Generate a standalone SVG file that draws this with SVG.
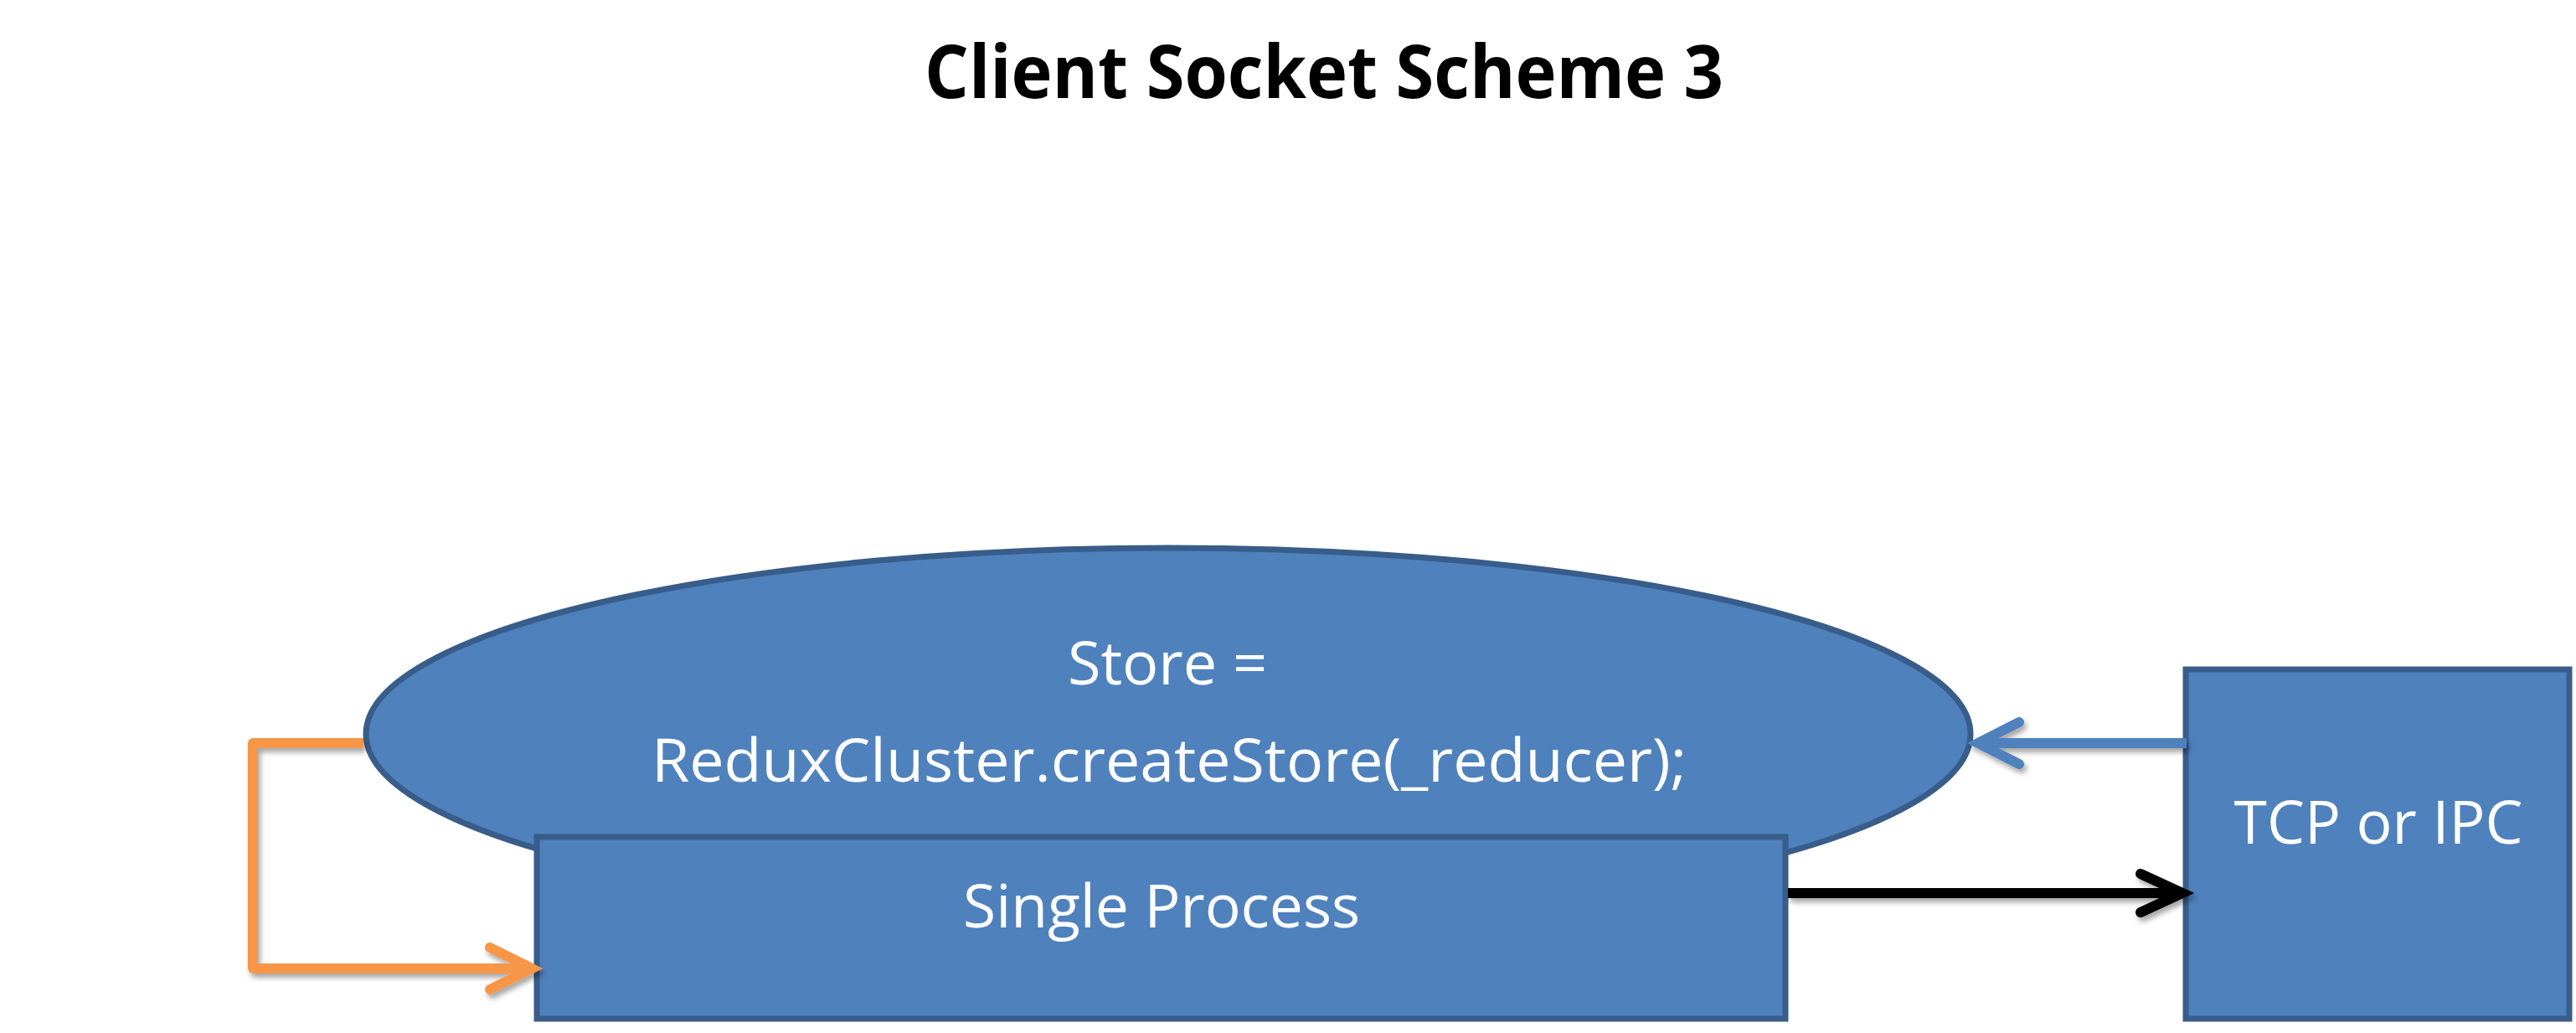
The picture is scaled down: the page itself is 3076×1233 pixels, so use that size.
<svg xmlns="http://www.w3.org/2000/svg" width="3076" height="1233" viewBox="0 0 3076 1233">
  <style>
    .node { fill: #4F81BD; stroke: #385D8A; stroke-width: 7; }
    .label { font-family: "Open Sans", "Liberation Sans", sans-serif; font-size: 72px; fill: #FFFFFF; text-anchor: middle; }
    .title { font-family: "Open Sans", "Liberation Sans", sans-serif; font-size: 87px; font-weight: bold; fill: #000000; text-anchor: middle; }
    .conn { fill: none; stroke-width: 12; }
  </style>
  <defs>
    <filter id="shadow" filterUnits="userSpaceOnUse" x="0" y="0" width="3076" height="1233">
      <feDropShadow dx="3" dy="5" stdDeviation="3" flood-color="#000000" flood-opacity="0.35"/>
    </filter>
    <marker id="arrOrange" markerUnits="userSpaceOnUse" orient="auto" refX="0" refY="0" markerWidth="80" markerHeight="80" overflow="visible">
      <path d="M-50,-25 L0,0 L-50,25" fill="none" stroke="#F79646" stroke-width="12" stroke-linecap="round" stroke-linejoin="miter"/>
    </marker>
    <marker id="arrBlue" markerUnits="userSpaceOnUse" orient="auto" refX="0" refY="0" markerWidth="80" markerHeight="80" overflow="visible">
      <path d="M-49,-25 L0,0 L-49,25" fill="none" stroke="#4F81BD" stroke-width="12" stroke-linecap="round" stroke-linejoin="miter"/>
    </marker>
    <marker id="arrBlack" markerUnits="userSpaceOnUse" orient="auto" refX="0" refY="0" markerWidth="80" markerHeight="80" overflow="visible">
      <path d="M-50,-23 L0,0 L-50,23" fill="none" stroke="#000000" stroke-width="12" stroke-linecap="round" stroke-linejoin="miter"/>
    </marker>
  </defs>

  <rect x="0" y="0" width="3076" height="1233" fill="#FFFFFF"/>

  <g id="title">
    <text class="title" x="1581" y="117" textLength="954" lengthAdjust="spacingAndGlyphs">Client Socket Scheme 3</text>
  </g>

  <g id="store">
    <ellipse class="node" cx="1395" cy="876" rx="958" ry="222"/>
    <text class="label" x="1394" y="817">Store =</text>
    <text class="label" x="1396" y="933" textLength="1236" lengthAdjust="spacingAndGlyphs">ReduxCluster.createStore(_reducer);</text>
  </g>

  <g id="single-process">
    <rect class="node" x="641" y="999" width="1491" height="217"/>
    <text class="label" x="1387" y="1107" textLength="474" lengthAdjust="spacingAndGlyphs">Single Process</text>
  </g>

  <g id="tcp-ipc">
    <rect class="node" x="2610" y="799" width="458" height="417"/>
    <text class="label" x="2840" y="1007" textLength="345" lengthAdjust="spacingAndGlyphs">TCP or IPC</text>
  </g>

  <g id="connectors">
    <path class="conn" d="M434,887 H302 V1156 H635" stroke="#F79646" stroke-linejoin="round" marker-end="url(#arrOrange)" filter="url(#shadow)"/>
    <path class="conn" d="M2611,887 H2362" stroke="#4F81BD" marker-end="url(#arrBlue)" filter="url(#shadow)"/>
    <path class="conn" d="M2135,1066 H2606" stroke="#000000" marker-end="url(#arrBlack)" filter="url(#shadow)"/>
  </g>
</svg>
